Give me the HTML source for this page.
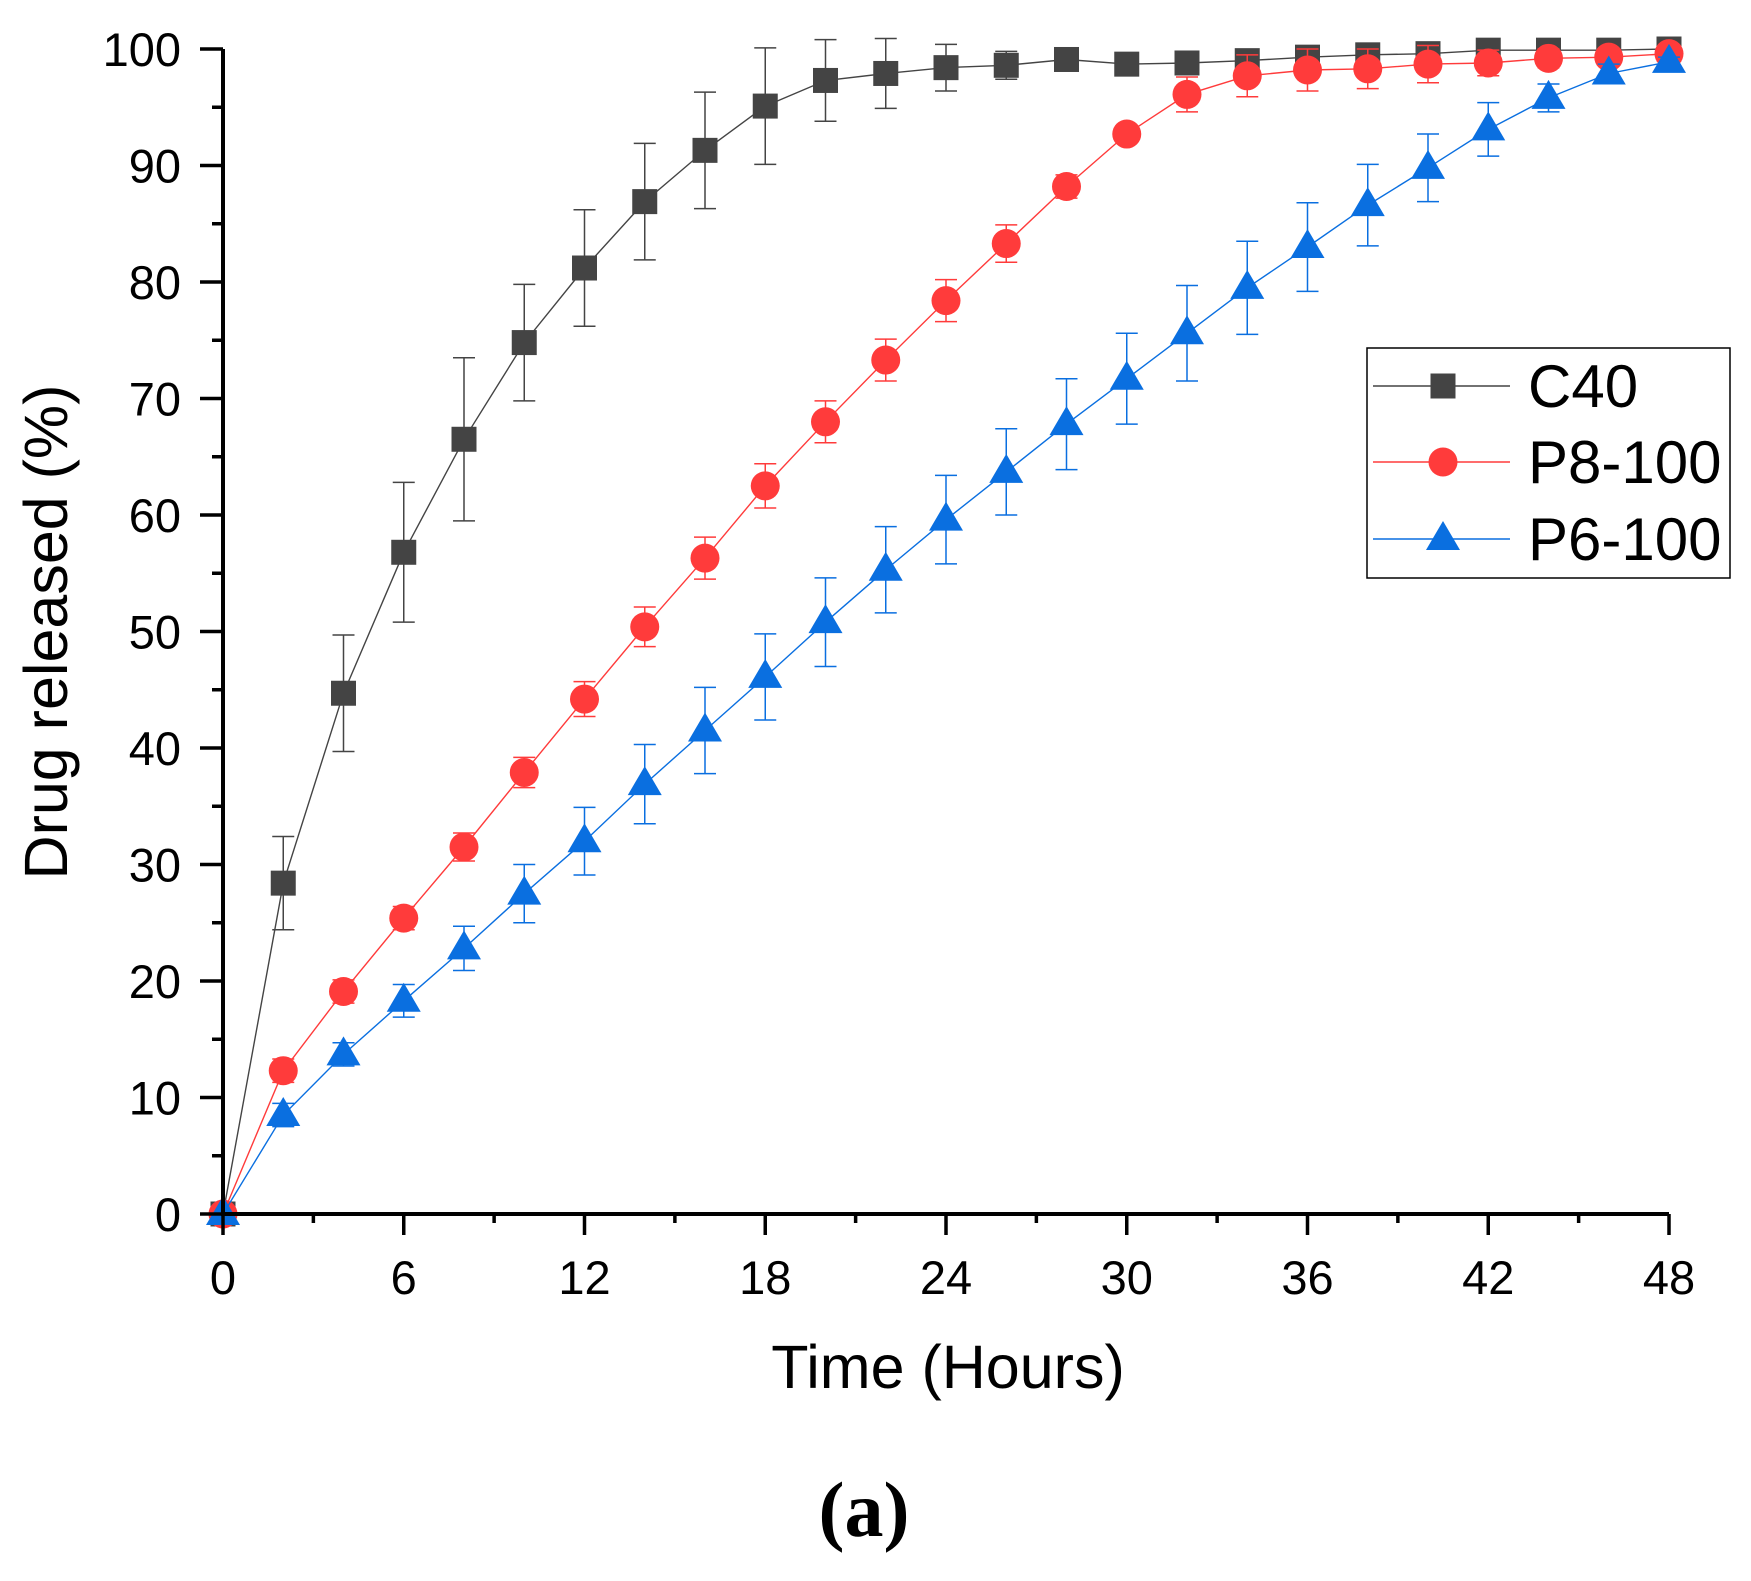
<!DOCTYPE html>
<html><head><meta charset="utf-8"><style>
html,body{margin:0;padding:0;background:#fff;}
svg{display:block;}
text{font-family:"Liberation Sans",Arial,sans-serif;}
</style></head><body>
<svg id="s" width="1751" height="1581" xmlns="http://www.w3.org/2000/svg"></svg>
<script>
const S=document.getElementById('s');
const X0=223,XS=(1669-223)/48,Y0=1214,YS=(1214-49)/100;
const X=t=>X0+t*XS, Y=v=>Y0-v*YS;
let h='';
const c40=[0,28.4,44.7,56.8,66.5,74.8,81.2,86.9,91.3,95.1,97.3,97.9,98.4,98.6,99.1,98.7,98.8,99.0,99.3,99.5,99.6,99.9,99.9,99.9,100];
const c40e=[0,4,5,6,7,5,5,5,5,5,3.5,3,2,1.2,0.5,0.5,0.5,0.8,0.6,0.4,0.3,0.2,0.1,0.1,0];
const p8=[0,12.3,19.1,25.4,31.5,37.9,44.2,50.4,56.3,62.5,68.0,73.3,78.4,83.3,88.2,92.7,96.1,97.7,98.2,98.3,98.7,98.8,99.2,99.3,99.6];
const p8e=[0,1,1,1,1.2,1.3,1.5,1.7,1.8,1.9,1.8,1.8,1.8,1.6,1,0.5,1.5,1.8,1.8,1.7,1.6,1.1,0.8,0.6,0.3];
const p6=[0,8.5,13.7,18.3,22.8,27.5,32.0,36.9,41.5,46.1,50.8,55.3,59.6,63.7,67.8,71.7,75.6,79.5,83.0,86.6,89.8,93.1,95.8,97.9,98.9];
const p6e=[0,1,1,1.4,1.9,2.5,2.9,3.4,3.7,3.7,3.8,3.7,3.8,3.7,3.9,3.9,4.1,4.0,3.8,3.5,2.9,2.3,1.2,0.8,0.4];
function series(d,e,col,mk){
  let pts=d.map((v,i)=>X(i*2).toFixed(1)+','+Y(v).toFixed(1)).join(' ');
  h+=`<polyline points="${pts}" fill="none" stroke="${col}" stroke-width="1.4"/>`;
  d.forEach((v,i)=>{if(!e[i])return;const x=X(i*2);const a=Y(v+e[i]),b=Y(v-e[i]);
    h+=`<path d="M${x} ${a}V${b}M${x-11} ${a}H${x+11}M${x-11} ${b}H${x+11}" stroke="${col}" stroke-width="1.5" fill="none"/>`;});
  d.forEach((v,i)=>{h+=mk(X(i*2),Y(v));});
}
const sq=(x,y)=>`<rect x="${x-12.5}" y="${y-12.5}" width="25" height="25" fill="#444"/>`;
const ci=(x,y)=>`<circle cx="${x}" cy="${y}" r="14.5" fill="#ff3b3b"/>`;
const tr=(x,y)=>`<polygon points="${x},${y-18} ${x-17},${y+11} ${x+17},${y+11}" fill="#0a6fe0"/>`;
series(c40,c40e,'#444',sq);
series(p8,p8e,'#ff3b3b',ci);
series(p6,p6e,'#0a6fe0',tr);
h+=`<path d="M${X0} 49V${Y0}H1669" stroke="#000" stroke-width="4" fill="none"/>`;
for(let v=0;v<=100;v+=5){const y=Y(v);h+=`<line x1="${v%10?212:200}" y1="${y}" x2="${X0}" y2="${y}" stroke="#000" stroke-width="3.5"/>`;
 if(v%10==0)h+=`<text x="181" y="${y+17}" font-size="47" text-anchor="end">${v}</text>`;}
for(let t=0;t<=48;t+=3){const x=X(t);h+=`<line x1="${x}" y1="${Y0}" x2="${x}" y2="${t%6?1223:1235}" stroke="#000" stroke-width="3.5"/>`;
 if(t%6==0)h+=`<text x="${x}" y="1294" font-size="47" text-anchor="middle">${t}</text>`;}
h+=`<text x="948" y="1388" font-size="61" text-anchor="middle">Time (Hours)</text>`;
h+=`<text transform="translate(67,632) rotate(-90)" font-size="61" text-anchor="middle">Drug released (%)</text>`;
h+=`<text x="864" y="1536" font-size="78" font-weight="bold" text-anchor="middle" style="font-family:'Liberation Serif',serif">(a)</text>`;
h+=`<rect x="1367" y="348" width="363" height="230" fill="#fff" stroke="#000" stroke-width="1.5"/>`;
[[386,'#444',sq,'C40'],[462,'#ff3b3b',ci,'P8-100'],[539,'#0a6fe0',tr,'P6-100']].forEach(([y,c,m,t])=>{
 h+=`<line x1="1373" y1="${y}" x2="1510" y2="${y}" stroke="${c}" stroke-width="1.5"/>`+m(1443,y)+
 `<text x="1528" y="${y+21}" font-size="60">${t}</text>`;});
S.innerHTML=h;
</script>
</body></html>
